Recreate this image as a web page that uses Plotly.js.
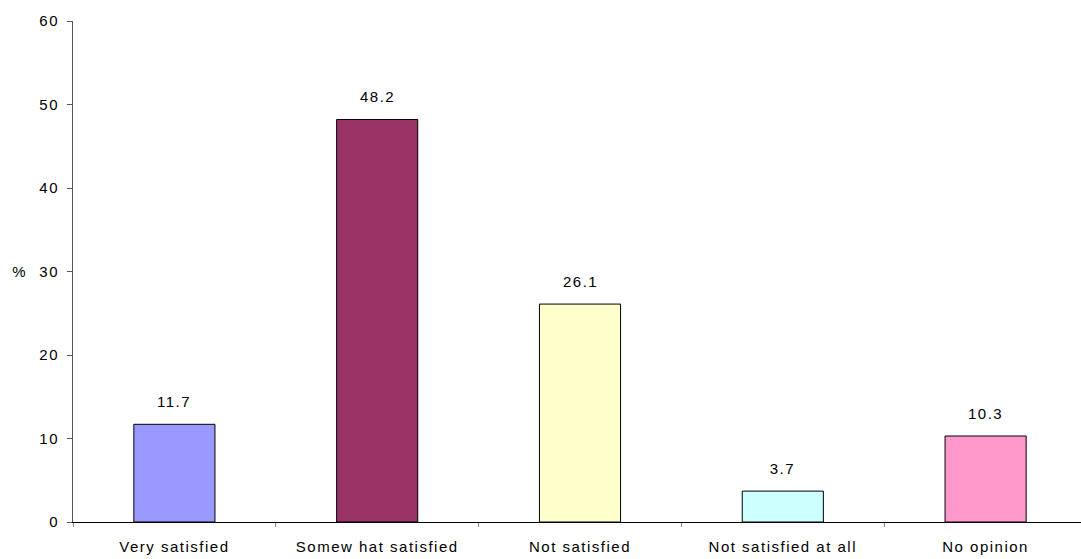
<!DOCTYPE html>
<html>
<head>
<meta charset="utf-8">
<script src="https://cdn.plot.ly/plotly-3.0.1.min.js"></script>
<style>
html,body{margin:0;padding:0;overflow:hidden;background:#fff;}
#chart{width:1090px;height:559px;}
#chart svg text{letter-spacing:1.5px;}
</style>
</head>
<body>
<div id="chart"></div>
<script>
var categories = ["Very satisfied", "Somew hat satisfied", "Not satisfied", "Not satisfied at all", "No opinion"];
var values = [11.7, 48.2, 26.1, 3.7, 10.3];
var barColors = ["#9999FF", "#993366", "#FFFFCC", "#CCFFFF", "#FF99CC"];
var yTicks = [0, 10, 20, 30, 40, 50, 60];
var yAxisLabel = "%";

var FONT = "Liberation Sans, Arial, sans-serif";
var FS = 15;

var trace = {
  type: "bar",
  x: categories,
  y: values,
  width: 0.4,
  marker: {color: barColors, line: {color: "#000", width: 1}},
  hoverinfo: "x+y"
};

var annotations = categories.map(function(c, i){
  return {
    x: c, y: values[i], xref: "x", yref: "y",
    text: values[i].toFixed(1),
    showarrow: false,
    yanchor: "middle",
    yshift: 23,
    font: {family: FONT, size: FS, color: "#000"}
  };
});
annotations.push({
  xref: "paper", yref: "paper", x: -0.053, y: 0.5, xanchor: "center", yanchor: "middle",
  text: yAxisLabel, showarrow: false, font: {family: FONT, size: FS, color: "#000"}
});

var layout = {
  width: 1090,
  height: 559,
  margin: {l: 73, r: 3, t: 21, b: 37},
  paper_bgcolor: "#fff",
  plot_bgcolor: "#fff",
  showlegend: false,
  font: {family: FONT, size: FS, color: "#000"},
  xaxis: {
    type: "category",
    showline: true,
    linecolor: "#000",
    linewidth: 1,
    ticks: "outside",
    tickson: "boundaries",
    ticklen: 4,
    tickcolor: "#888",
    showgrid: false,
    zeroline: false,
    tickfont: {size: FS},
    ticklabelstandoff: 11
  },
  yaxis: {
    range: [0, 60],
    tickvals: yTicks,
    ticktext: yTicks.map(String),
    showline: true,
    linecolor: "#555",
    linewidth: 1,
    ticks: "outside",
    ticklen: 5,
    tickcolor: "#555",
    showgrid: false,
    zeroline: false,
    tickfont: {size: FS},
    ticklabelstandoff: 5
  },
  annotations: annotations
};

Plotly.newPlot("chart", [trace], layout, {displayModeBar: false, staticPlot: true});
</script>
</body>
</html>
